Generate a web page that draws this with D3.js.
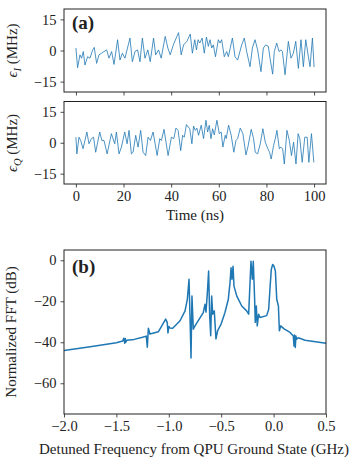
<!DOCTYPE html>
<html>
<head>
<meta charset="utf-8">
<script src="https://cdn.jsdelivr.net/npm/d3@7"></script>
<style>
  body { margin: 0; background: #fff; }
  svg text { font-family: "Liberation Serif", "Times New Roman", Times, serif; fill: #222; }
</style>
</head>
<body>
<div id="chart"></div>
<script>
// time traces (ns, MHz)
const tI = [0, 0.7, 1.7, 2.4, 3.1, 3.8, 4.9, 5.9, 6.9, 7.7, 8.7, 9.7, 10.8, 11.8, 12.9, 13.9, 15.0, 16.0, 17.5, 18.5,
  19.5, 20.6, 22.7, 23.7, 24.8, 25.9, 26.9, 27.9, 29.0, 30.2, 31.2, 32.6, 33.5, 34.7, 35.8, 37.5, 38.6, 39.6, 40.9, 42.4,
  43.1, 44.2, 45.2, 46.6, 48.0, 48.9, 49.9, 50.6, 51.3, 52.0, 53.0, 53.9, 54.8, 55.6, 56.3, 57.0, 57.7, 58.6, 59.8, 60.5,
  61.2, 62.3, 63.3, 64.0, 65.7, 66.8, 67.9, 69.6, 70.7, 71.7, 73.1, 74.1, 75.2, 76.3, 77.7, 78.7, 79.7, 80.8, 81.5, 82.6,
  83.3, 84.3, 85.3, 86.1, 86.7, 87.8, 89.2, 90.3, 91.3, 92.3, 93.4, 94.5, 95.5, 96.5, 97.6, 98.3, 99.3, 100];
const eI = [1.2, -8.3, -2.1, -3.7, -0.5, -7.0, -3.0, -3.7, -0.2, 1.5, -6.2, -2.1, -1.3, -0.5, 0.3, -3.7, -0.5, -6.7, 5.2, -4.6,
  -1.3, -3.7, 6.0, -5.4, -0.5, 0.3, -5.4, 6.0, -3.7, 0.3, -5.4, 6.0, -2.1, 0.3, -3.7, 6.8, 1.2, -2.1, 2.7, 6.8,
  8.6, -2.1, 2.7, 4.4, 7.9, -1.3, 5.2, 0.3, 5.2, 3.6, 6.0, -1.3, 6.5, 2.0, 5.2, 1.2, 2.7, -3.0, 5.2, 3.6,
  5.2, -3.0, -0.5, -3.0, 6.0, -3.0, -4.6, 2.7, 6.0, -0.5, -7.8, 1.2, 5.2, 0.3, -10.2, 1.2, 2.7, 2.0, -3.7, -11.4,
  -0.5, 3.6, -0.5, 0.3, -0.5, -11.7, 4.4, -3.7, -1.3, 4.4, -8.6, 5.2, -7.8, 5.2, -3.0, -7.8, 6.0, -8.0];

const tQ = [0, 0.4, 1.3, 2.0, 3.0, 4.6, 5.5, 6.5, 7.4, 8.3, 10.0, 10.9, 11.8, 13.1, 14.9, 16.3, 17.0, 18.1, 19.1, 20.5,
  21.5, 22.3, 23.3, 24.0, 25.1, 26.1, 27.2, 28.2, 29.3, 30.3, 31.3, 32.4, 34.1, 35.2, 35.9, 37.0, 38.7, 40.1, 41.1, 42.0,
  42.9, 44.0, 44.8, 45.5, 46.4, 47.8, 48.7, 49.4, 50.1, 50.8, 51.5, 52.6, 53.6, 54.6, 55.3, 56.0, 56.7, 57.4, 58.1, 59.2,
  60.2, 61.0, 61.7, 62.7, 63.1, 64.1, 65.2, 66.3, 67.2, 67.9, 69.0, 70.1, 71.4, 72.2, 73.6, 74.6, 75.3, 76.3, 77.4, 78.5,
  79.5, 80.6, 81.3, 82.0, 83.0, 83.7, 84.4, 85.4, 86.0, 86.8, 87.5, 88.6, 89.6, 90.5, 91.4, 92.4, 93.3, 94.0, 95.0, 96.1,
  97.1, 97.8, 98.9, 99.9];
const eQ = [2.7, -5.4, 2.7, 1.1, -2.9, 5.2, -0.5, 2.0, 2.7, -4.6, 5.2, 1.1, 1.1, -5.4, 4.4, -0.5, 5.2, -5.4, -2.1, 5.2,
  -0.5, 6.0, -5.4, -4.6, 3.6, -2.1, 6.0, -4.6, -6.2, 2.7, 1.1, 5.2, -6.2, 2.0, 1.1, 6.5, -6.2, 2.7, 2.0, 7.1,
  6.0, -3.8, 3.6, 2.7, 8.8, 6.8, -0.5, 8.1, 6.0, 7.1, 3.6, 8.5, 2.0, 10.9, 5.2, 8.5, 2.0, 6.8, 3.8, 10.9,
  4.4, 5.2, -2.1, 3.6, 2.0, 8.5, 3.6, -4.6, 1.1, 2.0, 7.1, 4.4, -5.9, -2.1, 6.5, 2.0, -4.6, -5.4, -0.5, 6.8,
  0.3, -2.9, -4.6, -7.9, -1.3, 2.0, 6.0, -2.9, -2.1, -2.9, -10.3, 6.0, 1.1, -6.2, 0.3, -10.3, 4.4, 2.0, -9.5, 2.7,
  2.7, -9.5, 4.4, -9.5];

// spectrum (GHz, dB)
const freq = [-2.0, -1.75, -1.5, -1.44, -1.43, -1.42, -1.415, -1.41, -1.40, -1.33, -1.25, -1.215, -1.205, -1.195, -1.18, -1.1,
  -1.03, -1.015, -1.008, -1.0, -0.99, -0.963, -0.93, -0.893, -0.845, -0.823, -0.807, -0.798, -0.788, -0.779, -0.766, -0.750,
  -0.671, -0.655, -0.645, -0.632, -0.620, -0.610, -0.600, -0.591, -0.581, -0.566, -0.550, -0.534, -0.50, -0.464, -0.432, -0.416,
  -0.406, -0.397, -0.387, -0.378, -0.352, -0.304, -0.257, -0.238, -0.225, -0.216, -0.203, -0.194, -0.181, -0.175, -0.165, -0.156,
  -0.143, -0.130, -0.066, -0.047, -0.034, -0.022, -0.009, 0.004, 0.017, 0.030, 0.046, 0.055, 0.068, 0.10, 0.157, 0.188,
  0.195, 0.200, 0.207, 0.213, 0.220, 0.236, 0.30, 0.40, 0.50];
const fftDb = [-44.0, -42.2, -40.2, -39.4, -38.0, -40.5, -38.2, -40.0, -39.0, -38.6, -37.6, -37.0, -42.4, -33.2, -36.0, -34.9,
  -28.7, -30.3, -35.5, -32.3, -33.0, -33.2, -31.5, -29.5, -24.7, -19.0, -9.3, -27.0, -47.7, -17.4, -33.6, -32.0,
  -25.5, -21.5, -25.3, -15.8, -5.3, -27.0, -36.8, -17.4, -26.3, -24.7, -38.4, -34.4, -31.0, -25.5, -19.0, -11.0,
  -3.7, -9.3, -2.9, -12.6, -17.4, -22.3, -24.7, -26.3, -11.0, -0.5, -9.3, -0.5, -19.0, -30.3, -22.3, -32.0,
  -26.3, -27.9, -27.0, -23.9, -13.4, -4.5, -2.1, -2.9, -5.3, -19.0, -22.3, -34.4, -32.0, -33.5, -35.2, -37.0,
  -41.8, -36.5, -42.6, -37.0, -38.5, -37.8, -39.0, -39.8, -40.5];

const timeTicks = [0, 20, 40, 60, 80, 100];
const epsTicks = [-15, 0, 15];
const freqTicks = [-2.0, -1.5, -1.0, -0.5, 0.0, 0.5];
const dbTicks = [0, -20, -40, -60];

const width = 363, height = 467;
const left = 64, right = 326;
const blue = "#1f77b4";
const serif = "'Liberation Serif', 'Times New Roman', Times, serif";
const tickSize = 14.5, labelSize = 15;
const minus = s => s.replace("-", "\u2212");

const svg = d3.select("#chart").append("svg")
  .attr("width", width)
  .attr("height", height)
  .attr("font-family", serif);

const xT = d3.scaleLinear().domain([-5, 105]).range([left, right]);

function styleAxis(a) {
  a.attr("font-family", serif);
  a.select(".domain").remove();
  a.selectAll(".tick line").attr("stroke", "#222").attr("stroke-width", 0.8);
  a.selectAll(".tick text").attr("font-size", tickSize)
    .attr("font-family", serif).attr("fill", "#222");
}

// panel a, two stacked traces
function tracePanel(top, bottom, t, e, showX) {
  const y = d3.scaleLinear().domain([-20, 20]).range([bottom, top]);
  const g = svg.append("g");

  const line = d3.line().x((d, i) => xT(t[i])).y(d => y(d));
  g.append("path")
    .datum(e)
    .attr("d", line)
    .attr("fill", "none")
    .attr("stroke", blue)
    .attr("stroke-width", 0.8)
    .attr("stroke-linejoin", "round");

  const ya = g.append("g")
    .attr("transform", `translate(${left},0)`)
    .call(d3.axisLeft(y).tickValues(epsTicks).tickSize(3.5).tickPadding(4).tickFormat(d => minus(String(d))));
  styleAxis(ya);

  const xa = g.append("g")
    .attr("transform", `translate(0,${bottom})`)
    .call(d3.axisBottom(xT).tickValues(timeTicks).tickSize(3.5).tickPadding(3)
      .tickFormat(showX ? d => String(d) : ""));
  styleAxis(xa);

  g.append("rect")
    .attr("x", left).attr("y", top)
    .attr("width", right - left).attr("height", bottom - top)
    .attr("fill", "none").attr("stroke", "#222").attr("stroke-width", 1);
  return g;
}

tracePanel(9, 92, tI, eI, false);
tracePanel(101.5, 184, tQ, eQ, true);

svg.append("text")
  .attr("x", 72).attr("y", 29)
  .attr("font-size", 19).attr("font-weight", "bold")
  .text("(a)");

function epsLabel(cy, sub) {
  const t = svg.append("text")
    .attr("transform", `translate(17,${cy}) rotate(-90)`)
    .attr("text-anchor", "middle")
    .attr("font-size", labelSize);
  t.append("tspan").attr("font-style", "italic").text("\u03f5");
  t.append("tspan").attr("font-style", "italic").attr("font-size", 10.5).attr("dy", 3.5).text(sub);
  t.append("tspan").attr("dy", -3.5).text(" (MHz)");
}
epsLabel(50.5, "I");
epsLabel(143, "Q");

svg.append("text")
  .attr("x", (left + right) / 2).attr("y", 220)
  .attr("text-anchor", "middle").attr("font-size", labelSize)
  .text("Time (ns)");

// panel b, spectrum
const topB = 250, botB = 414;
const xF = d3.scaleLinear().domain([-2, 0.5]).range([left, right]);
const yF = d3.scaleLinear().domain([-75, 5]).range([botB, topB]);

const gb = svg.append("g");
gb.append("path")
  .datum(fftDb)
  .attr("d", d3.line().x((d, i) => xF(freq[i])).y(d => yF(d)))
  .attr("fill", "none")
  .attr("stroke", blue)
  .attr("stroke-width", 1.5)
  .attr("stroke-linejoin", "round");

const yb = gb.append("g")
  .attr("transform", `translate(${left},0)`)
  .call(d3.axisLeft(yF).tickValues(dbTicks).tickSize(3.5).tickPadding(4).tickFormat(d => minus(String(d))));
styleAxis(yb);

const xb = gb.append("g")
  .attr("transform", `translate(0,${botB})`)
  .call(d3.axisBottom(xF).tickValues(freqTicks).tickSize(3.5).tickPadding(3).tickFormat(d => minus(d3.format(".1f")(d))));
styleAxis(xb);

gb.append("rect")
  .attr("x", left).attr("y", topB)
  .attr("width", right - left).attr("height", botB - topB)
  .attr("fill", "none").attr("stroke", "#222").attr("stroke-width", 1);

svg.append("text")
  .attr("x", 72).attr("y", 273)
  .attr("font-size", 19).attr("font-weight", "bold")
  .text("(b)");

svg.append("text")
  .attr("transform", `translate(16,${(topB + botB) / 2}) rotate(-90)`)
  .attr("text-anchor", "middle").attr("font-size", labelSize)
  .text("Normalized FFT (dB)");

svg.append("text")
  .attr("x", 194).attr("y", 454)
  .attr("text-anchor", "middle").attr("font-size", labelSize)
  .text("Detuned Frequency from QPU Ground State (GHz)");
</script>
</body>
</html>
